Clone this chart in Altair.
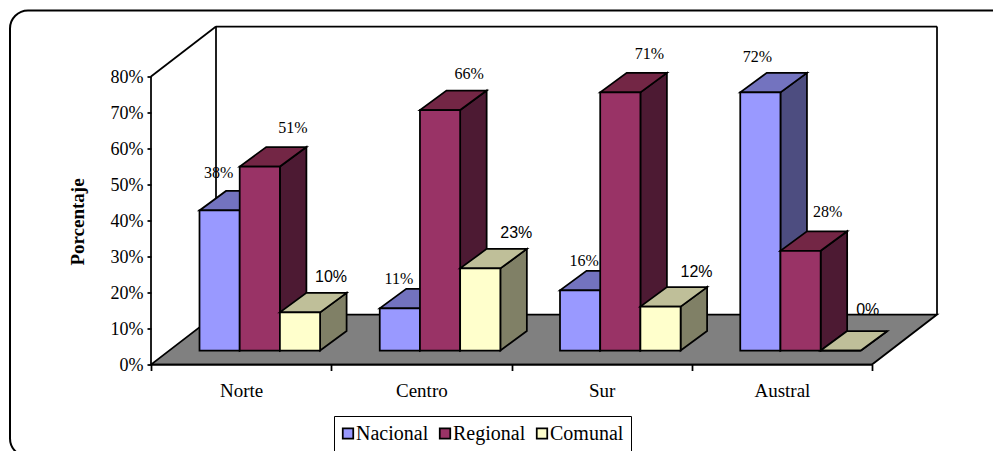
import altair as alt
import pandas as pd

categories = ["Norte", "Centro", "Sur", "Austral"]
series = ["Nacional", "Regional", "Comunal"]
nacional = [38.9, 11.7, 16.7, 71.7]
regional = [51.1, 66.8, 71.7, 27.7]
comunal = [10.6, 22.8, 12.2, 0.0]
label_nacional = ["38%", "11%", "16%", "72%"]
label_regional = ["51%", "66%", "71%", "28%"]
label_comunal = ["10%", "23%", "12%", "0%"]
y_ticks = [0, 10, 20, 30, 40, 50, 60, 70, 80]

front = {"Nacional": "#9999FF", "Regional": "#993366", "Comunal": "#FFFFCC"}
top = {"Nacional": "#7373BF", "Regional": "#732645", "Comunal": "#BFBF99"}
side = {"Nacional": "#4D4D80", "Regional": "#4D1A33", "Comunal": "#808066"}

# label offsets from the centre of each bar's top edge (px)
off_dx = {"Nacional": [-1, -1, 4, -3], "Regional": [33, 29, 29, 27], "Comunal": [31, 36, 36, 27]}
off_dy = {"Nacional": [-32, -24, -24, -30], "Regional": [-34, -31, -33, -34], "Comunal": [-30, -30, -30, -36]}
font_of = {"Nacional": "Liberation Serif", "Regional": "Liberation Serif", "Comunal": "Liberation Sans"}

PX_PER_CAT = 180.25
PX_PER_PCT = 3.6
W, H = 786, 338
x_max = W / PX_PER_CAT
y_max = H / PX_PER_PCT
DX = 65 / PX_PER_CAT       # depth of the floor
DY = 50 / PX_PER_PCT
BX = 26.5 / PX_PER_CAT     # depth of a bar
BY = 19.5 / PX_PER_PCT
SX = 18.5 / PX_PER_CAT     # front of a bar behind the axis plane
SY = 14 / PX_PER_PCT
BW = 40.2 / PX_PER_CAT
GAP = 30 / PX_PER_CAT
LW = 1.75

xs = alt.Scale(domain=[0, x_max], nice=False, zero=False)
ys = alt.Scale(domain=[0, y_max], nice=False, zero=False)
color_scale = alt.Scale(domain=series, range=[front[s] for s in series])

cat_axis_values = [v / 2 for v in range(0, 9)]
name_expr = (
    "datum.value == 0.5 ? 'Norte' : datum.value == 1.5 ? 'Centro' : "
    "datum.value == 2.5 ? 'Sur' : datum.value == 3.5 ? 'Austral' : ''"
)
x_axis = alt.Axis(
    title=None, values=cat_axis_values, grid=False, domain=False, zindex=1,
    labelExpr=name_expr, labelOverlap=False, labelFlush=False,
    labelFont="Liberation Serif", labelFontSize=19, labelColor="black",
    labelPadding=11, tickSize=6, tickWidth=LW, tickColor="black",
    tickOpacity=alt.expr("datum.value % 1 == 0 ? 1 : 0"),
)
y_axis = alt.Axis(
    title="Porcentaje", values=y_ticks, grid=False, domain=False, zindex=1,
    labelExpr="datum.value + '%'", labelOverlap=False, labelFlush=False,
    labelFont="Liberation Serif", labelFontSize=18, labelColor="black",
    labelPadding=4, tickSize=4, tickWidth=LW, tickColor="black", labelOffset=1,
    titleFont="Liberation Serif", titleFontSize=19, titleFontWeight="bold",
    titleColor="black", titleX=-64, titleY=195,
)


def X(field="x"):
    return alt.X(f"{field}:Q", scale=xs, axis=x_axis)


def Y(field="y"):
    return alt.Y(f"{field}:Q", scale=ys, axis=y_axis)


def area(rows, fill):
    return alt.Chart(pd.DataFrame(rows)).mark_area(
        fill=fill, stroke="black", strokeWidth=LW, strokeJoin="miter", opacity=1
    ).encode(x=X(), y=Y(), y2=alt.Y2("y2:Q"))


def rule(x0, y0, x1, y1):
    return alt.Chart(pd.DataFrame([{"x": x0, "y": y0, "x1": x1, "y1": y1}])).mark_rule(
        color="black", strokeWidth=LW
    ).encode(x=X(), y=Y(), x2=alt.X2("x1:Q"), y2=alt.Y2("y1:Q"))


# rounded outer frame, expressed on the same scales
frame = alt.Chart(pd.DataFrame([{
    "x": -141 / PX_PER_CAT, "x1": 865 / PX_PER_CAT,
    "y": (H + 16) / PX_PER_PCT, "y1": -92 / PX_PER_PCT,
}])).mark_rect(fill="white", stroke="black", strokeWidth=2, cornerRadius=18).encode(
    x=X(), x2=alt.X2("x1:Q"), y=Y(), y2=alt.Y2("y1:Q")
)

floor = area([
    {"x": 0, "y": 0, "y2": 0},
    {"x": DX, "y": 0, "y2": DY},
    {"x": 4, "y": 0, "y2": DY},
    {"x": 4 + DX, "y": DY, "y2": DY},
], "#808080")

layers = [frame, floor,
          rule(0, 0, 0, 80), rule(0, 80, DX, 80 + DY), rule(DX, DY, DX, 80 + DY),
          rule(DX, 80 + DY, 4 + DX, 80 + DY), rule(4 + DX, DY, 4 + DX, 80 + DY),
          rule(0, 0, 4, 0)]

values = {"Nacional": nacional, "Regional": regional, "Comunal": comunal}
texts = {"Nacional": label_nacional, "Regional": label_regional, "Comunal": label_comunal}

bar_layers = []
label_layers = []
for i, cat in enumerate(categories):
    for j, s in enumerate(series):
        v = values[s][i]
        x0 = i + SX + GAP + j * BW
        x1 = x0 + BW
        yv = SY + v
        bar_layers.append(area([
            {"x": x1, "y": SY, "y2": yv},
            {"x": x1 + BX, "y": SY + BY, "y2": yv + BY},
        ], side[s]))
        bar_layers.append(area([
            {"x": x0, "y": yv, "y2": yv},
            {"x": x0 + BX, "y": yv, "y2": yv + BY},
            {"x": x1, "y": yv, "y2": yv + BY},
            {"x": x1 + BX, "y": yv + BY, "y2": yv + BY},
        ], top[s]))
        bar_layers.append(alt.Chart(pd.DataFrame([
            {"x": x0, "x1": x1, "y": SY, "y1": yv, "serie": s}
        ])).mark_rect(stroke="black", strokeWidth=LW, opacity=1).encode(
            x=X(), x2=alt.X2("x1:Q"), y=Y(), y2=alt.Y2("y1:Q"),
            color=alt.Color("serie:N", scale=color_scale, legend=alt.Legend(
                title=None, orient="none", direction="horizontal",
                legendX=183, legendY=389.5, columns=3,
                fillColor="white", strokeColor="black", padding=7.5,
                symbolType="square", symbolSize=110, symbolStrokeColor="black",
                symbolStrokeWidth=1.75, symbolOpacity=1, symbolOffset=alt.expr("-3.5"),
                labelFont="Liberation Serif",
                labelFontSize=20, labelColor="black", columnPadding=7, labelOffset=alt.expr("-2"),
            )),
        ))
        label_layers.append(alt.Chart(pd.DataFrame([
            {"x": (x0 + x1) / 2, "y": yv, "t": texts[s][i]}
        ])).mark_text(
            font=font_of[s], fontSize=16, color="black", align="center",
            baseline="alphabetic", dx=off_dx[s][i], dy=off_dy[s][i],
        ).encode(x=X(), y=Y(), text="t:N"))

chart = alt.layer(*layers, *bar_layers, *label_layers).resolve_scale(
    x="shared", y="shared", color="shared"
).properties(
    width=W, height=H,
    autosize=alt.AutoSizeParams(type="none", resize=False),
    padding={"left": 143, "top": 18.5, "right": 56, "bottom": 86.5},
).configure_view(stroke=None).configure(background="white")

chart.save("out.html", embed_options={"renderer": "svg", "actions": False})
